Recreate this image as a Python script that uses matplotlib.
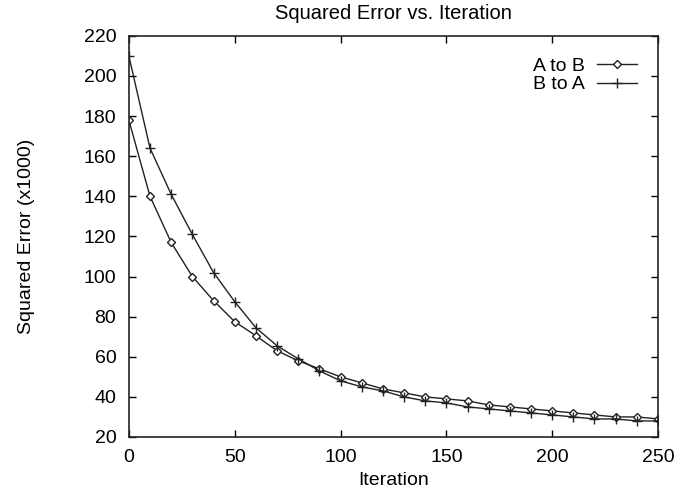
import matplotlib
matplotlib.use("Agg")
import matplotlib.pyplot as plt

iterations = list(range(0, 251, 10))
a_to_b = [178, 140, 117, 100, 88, 77.5, 70.5, 63, 58, 54, 50, 47, 44, 42, 40, 39, 38, 36,
          35, 34, 33, 32, 31, 30, 30, 29]
b_to_a = [210, 164, 141, 121, 102, 87.5, 74.5, 65.5, 59, 53, 48, 45, 43, 40, 38, 37, 35, 34,
          33, 32, 31, 30, 29, 29, 28, 28]
xticks = [0, 50, 100, 150, 200, 250]
yticks = list(range(20, 221, 20))

plt.rcParams['font.family'] = ['Liberation Sans', 'DejaVu Sans']
fig = plt.figure(figsize=(6.89, 4.91), dpi=100)
ax = fig.add_axes([0.187, 0.110, 0.768, 0.817])

ax.plot(iterations, a_to_b, color='#222222', lw=1.0, marker='D', ms=4,
        mfc='white', mec='#222222', mew=1.0, label='A to B')
ax.plot(iterations, b_to_a, color='#222222', lw=1.0, marker='+', ms=7,
        mew=1.0, label='B to A')

ax.set_xlim(0, 250)
ax.set_ylim(20, 220)
ax.set_xticks(xticks)
ax.set_yticks(yticks)
ax.tick_params(direction='in', length=5, width=1, top=True, right=True,
               labelsize=14, pad=9)
for s in ax.spines.values():
    s.set_linewidth(1.2)
    s.set_color('#222222')

ax.set_title('Squared Error vs. Iteration', fontsize=14.5, pad=12)
ax.set_xlabel('Iteration', fontsize=14, labelpad=4)
ax.set_ylabel('Squared Error (x1000)', fontsize=14, labelpad=35)

leg = ax.legend(loc='upper right', frameon=False, markerfirst=False, fontsize=14,
                handlelength=2.05, handletextpad=0.6, labelspacing=0.05,
                borderaxespad=0.7)

fig.savefig('out.png', dpi=100)
